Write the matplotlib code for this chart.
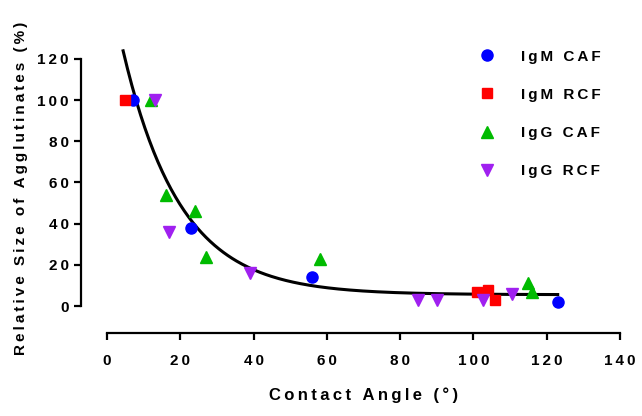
import numpy as np
import matplotlib
matplotlib.use('Agg')
import matplotlib.pyplot as plt

plt.rcParams['font.family'] = ['Liberation Sans', 'DejaVu Sans']
plt.rcParams['font.weight'] = 'bold'

# contact angle (deg) and relative size of agglutinates (%)
igm_caf_x = [7, 23, 56, 123]
igm_caf_y = [100, 38, 14, 2]
igm_rcf_x = [5, 101, 104, 106]
igm_rcf_y = [100, 7, 8, 3]
igg_caf_x = [12, 16, 24, 27, 58, 115, 116]
igg_caf_y = [100, 54, 46, 24, 23, 11, 7]
igg_rcf_x = [13, 17, 39, 85, 90, 102.5, 110.5]
igg_rcf_y = [100, 36, 16, 3, 3, 3, 6]

# one-phase decay fit: plateau + span * exp(-k * x)
fit_plateau = 5.5
fit_span = 157
fit_k = 0.064
fit_range = (4.4, 123)

x_ticks = [0, 20, 40, 60, 80, 100, 120, 140]
y_ticks = [0, 20, 40, 60, 80, 100, 120]


def spaced(s):
    # Prism-style wide letter spacing
    return '\u2009'.join(s)


fig = plt.figure(figsize=(6.42, 4.16), dpi=100)
ax = fig.add_axes([107 / 642, 110 / 416, 513 / 642, 257.3 / 416])

series = [
    (igm_caf_x, igm_caf_y, 'o', '#0000FF', 'IgM CAF', 8),
    (igm_rcf_x, igm_rcf_y, 's', '#FF0000', 'IgM RCF', 7.5),
    (igg_caf_x, igg_caf_y, '^', '#00BB00', 'IgG CAF', 8),
    (igg_rcf_x, igg_rcf_y, 'v', '#A020F0', 'IgG RCF', 8),
]
for x, y, m, c, lab, ms in series:
    ax.plot(x, y, linestyle='none', marker=m, color=c, markersize=ms,
            label=spaced(lab), clip_on=False, zorder=3)

xf = np.linspace(fit_range[0], fit_range[1], 300)
ax.plot(xf, fit_plateau + fit_span * np.exp(-fit_k * xf), color='black',
        linewidth=2.2, zorder=2, clip_on=False)

ax.set_xlim(0, 140)
ax.set_ylim(0, 125)
for s in ['top', 'right']:
    ax.spines[s].set_visible(False)
ax.spines['left'].set_position(('outward', 18.7))
ax.spines['bottom'].set_position(('outward', 19.4))
ax.spines['left'].set_bounds(0, 120)
ax.spines['bottom'].set_bounds(0, 140)
for s in ['left', 'bottom']:
    ax.spines[s].set_linewidth(1.6)
ax.set_xticks(x_ticks)
ax.set_xticklabels([spaced(str(t)) for t in x_ticks])
ax.set_yticks(y_ticks)
ax.set_yticklabels([spaced(str(t)) for t in y_ticks])
ax.tick_params(width=1.6, length=5, labelsize=11)
ax.tick_params(axis='x', pad=10.5)
ax.tick_params(axis='y', pad=4)

ax.set_xlabel(spaced('Contact Angle (°)'), fontsize=12, fontweight='bold',
              labelpad=14)
ax.set_ylabel(spaced('Relative Size of Agglutinates (%)'), fontsize=11,
              fontweight='bold')
ax.yaxis.set_label_coords(-0.154, 0.459)

leg = ax.legend(loc='upper left', bbox_to_anchor=(0.70, 1.02), frameon=False,
                fontsize=11, handletextpad=1.2, labelspacing=1.58,
                borderaxespad=0)

fig.savefig('out.png', dpi=100)
